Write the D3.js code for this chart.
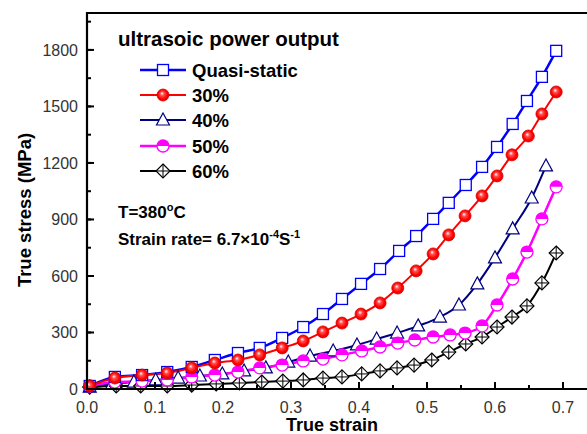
<!DOCTYPE html>
<html><head><meta charset="utf-8">
<script src="https://cdn.jsdelivr.net/npm/d3@7/dist/d3.min.js"></script>
<style>body{margin:0;background:#fff}svg{display:block}text{font-family:Arial,"Liberation Sans",sans-serif}</style>
</head><body><svg id="c" width="587" height="434"></svg>
<script>
const seriesNames = ["Quasi-static","30%","40%","50%","60%"];
const quasiStrain = [0.004,0.041,0.081,0.118,0.154,0.188,0.222,0.254,0.287,0.318,0.347,0.375,0.403,0.431,0.459,0.484,0.509,0.532,0.557,0.581,0.603,0.626,0.647,0.669,0.690];
const quasiStress = [16,64,74,90,117,154,191,218,271,329,398,478,558,637,733,812,903,988,1083,1179,1285,1407,1529,1657,1795];
const p30Strain = [0.004,0.041,0.081,0.118,0.154,0.188,0.222,0.254,0.287,0.318,0.347,0.375,0.403,0.431,0.457,0.484,0.509,0.532,0.556,0.581,0.603,0.625,0.649,0.669,0.690];
const p30Stress = [16,58,74,85,112,138,154,181,218,255,303,350,398,457,536,627,717,818,919,1025,1131,1243,1343,1460,1577];
const p40Strain = [0.004,0.037,0.069,0.101,0.134,0.166,0.199,0.231,0.263,0.296,0.328,0.362,0.397,0.426,0.456,0.487,0.519,0.547,0.574,0.600,0.626,0.654,0.675];
const p40Stress = [10,27,37,48,58,69,80,96,112,143,175,202,234,265,297,335,382,446,558,696,850,1014,1184];
const p50Strain = [0.004,0.041,0.081,0.118,0.154,0.188,0.222,0.254,0.287,0.318,0.347,0.375,0.404,0.431,0.457,0.482,0.509,0.534,0.556,0.581,0.603,0.626,0.647,0.669,0.690];
const p50Stress = [16,37,42,48,64,74,90,112,127,149,159,181,202,223,244,260,276,287,297,335,446,584,727,903,1073];
const p60Strain = [0.004,0.043,0.079,0.118,0.154,0.190,0.224,0.257,0.288,0.318,0.347,0.375,0.404,0.431,0.456,0.481,0.507,0.532,0.557,0.581,0.603,0.625,0.647,0.669,0.690];
const p60Stress = [10,16,16,16,21,27,32,37,42,48,58,64,80,96,112,127,154,196,239,276,329,382,441,563,722];
const xTicks = [0,0.1,0.2,0.3,0.4,0.5,0.6,0.7];
const yTicks = [0,300,600,900,1200,1500,1800];

const svg = d3.select("#c");
const L=87, R=587, T=13, B=389;
const x = d3.scaleLinear().domain([0,0.7353]).range([L,R]);
const y = d3.scaleLinear().domain([0,1996]).range([B,T]);

const defs = svg.append("defs");
const g1 = defs.append("radialGradient").attr("id","sph").attr("cx","0.5").attr("cy","0.5").attr("r","0.55").attr("fx","0.4").attr("fy","0.35");
g1.append("stop").attr("offset","0").attr("stop-color","#ffffff");
g1.append("stop").attr("offset","0.3").attr("stop-color","#ff5050");
g1.append("stop").attr("offset","0.7").attr("stop-color","#ff0000");
g1.append("stop").attr("offset","1").attr("stop-color","#d00000");

const series = [
 {name:seriesNames[2], xs:p40Strain, ys:p40Stress, color:"#000080", w:2, m:"tri"},
 {name:seriesNames[4], xs:p60Strain, ys:p60Stress, color:"#000000", w:2, m:"dia"},
 {name:seriesNames[3], xs:p50Strain, ys:p50Stress, color:"#ff00ff", w:2.5, m:"half"},
 {name:seriesNames[0], xs:quasiStrain, ys:quasiStress, color:"#0000ff", w:2.5, m:"sq"},
 {name:seriesNames[1], xs:p30Strain, ys:p30Stress, color:"#ff0000", w:2, m:"ball"}
];

function marker(sel, type, color, cx, cy){
  const g = sel.append("g").attr("transform",`translate(${cx},${cy})`);
  if(type==="sq"){
    g.append("rect").attr("x",-5.5).attr("y",-5.5).attr("width",11).attr("height",11).attr("fill","#fff").attr("stroke",color).attr("stroke-width",1.3);
  } else if(type==="ball"){
    g.append("circle").attr("r",6).attr("fill","url(#sph)").attr("stroke","#e00000").attr("stroke-width",0.8);
  } else if(type==="tri"){
    g.append("path").attr("d","M0,-7L6.5,5L-6.5,5Z").attr("fill","#fff").attr("stroke",color).attr("stroke-width",1.2);
  } else if(type==="half"){
    g.append("circle").attr("r",6).attr("fill","#fff").attr("stroke",color).attr("stroke-width",1.3);
    g.append("path").attr("d","M-6,0A6,6 0 0 1 6,0Z").attr("fill",color);
  } else if(type==="dia"){
    g.append("path").attr("d","M0,-7L7,0L0,7L-7,0Z").attr("fill","#fff").attr("stroke",color).attr("stroke-width",1.2);
    g.append("path").attr("d","M0,-7V7M-7,0H7").attr("stroke",color).attr("stroke-width",1);
  }
}

const axG = svg.append("g");
axG.append("line").attr("x1",L).attr("x2",R).attr("y1",T).attr("y2",T).attr("stroke","#000").attr("stroke-width",2);

const line = d3.line().x(d=>x(d[0])).y(d=>y(d[1])).curve(d3.curveMonotoneX);
series.forEach(s=>{
  const pts = s.xs.map((v,i)=>[v,s.ys[i]]);
  svg.append("path").attr("d",line(pts)).attr("fill","none").attr("stroke",s.color).attr("stroke-width",s.w);
});
series.forEach(s=>{
  const mg = svg.append("g");
  s.xs.forEach((v,i)=>marker(mg,s.m,s.color,x(v),y(s.ys[i])));
});

const xMinor = d3.range(0,0.74,0.05);
const xa = svg.append("g").attr("transform",`translate(0,${B})`);
xa.selectAll("line.mi").data(xMinor).join("line").attr("x1",d=>x(d)).attr("x2",d=>x(d)).attr("y1",0).attr("y2",-4).attr("stroke","#000").attr("stroke-width",2);
xa.selectAll("line.ma").data(xTicks).join("line").attr("x1",d=>x(d)).attr("x2",d=>x(d)).attr("y1",0).attr("y2",-7).attr("stroke","#000").attr("stroke-width",2);
xa.selectAll("text").data(xTicks).join("text").attr("x",d=>x(d)).attr("y",24).attr("text-anchor","middle").attr("font-size",16).attr("fill","#333").text(d=>d.toFixed(1));
xa.append("line").attr("x1",L-1).attr("x2",R).attr("stroke","#000").attr("stroke-width",2.2);

const yMinor = d3.range(0,1997,150);
const ya = svg.append("g").attr("transform",`translate(${L},0)`);
ya.selectAll("line.mi").data(yMinor).join("line").attr("y1",d=>y(d)).attr("y2",d=>y(d)).attr("x1",0).attr("x2",4).attr("stroke","#000").attr("stroke-width",2);
ya.selectAll("line.ma").data(yTicks).join("line").attr("y1",d=>y(d)).attr("y2",d=>y(d)).attr("x1",0).attr("x2",7).attr("stroke","#000").attr("stroke-width",2);
ya.selectAll("text").data(yTicks).join("text").attr("x",-9).attr("y",d=>y(d)+6).attr("text-anchor","end").attr("font-size",16).attr("fill","#333").text(d=>d);
ya.append("line").attr("y1",T-1).attr("y2",B+1).attr("stroke","#000").attr("stroke-width",2.2);

svg.append("text").attr("x",332).attr("y",431).attr("text-anchor","middle").attr("font-size",18).attr("font-weight","bold").text("True strain");
svg.append("text").attr("transform","translate(31,210) rotate(-90)").attr("text-anchor","middle").attr("font-size",18.5).attr("font-weight","bold").text("True stress (MPa)");

svg.append("text").attr("x",118).attr("y",46).attr("font-size",20.5).attr("font-weight","bold").text("ultrasoic power output");
const legOrder = [3,4,0,2,1];
const legY = [70,95,120,146,171];
legOrder.forEach((si,k)=>{
  const s = series[si];
  svg.append("line").attr("x1",140).attr("x2",186).attr("y1",legY[k]).attr("y2",legY[k]).attr("stroke",s.color).attr("stroke-width",s.w);
  marker(svg,s.m,s.color,163,legY[k]);
  svg.append("text").attr("x",192).attr("y",legY[k]+6.5).attr("font-size",18.5).attr("font-weight","bold").text(s.name);
});

const t1 = svg.append("text").attr("x",118).attr("y",218).attr("font-size",17).attr("font-weight","bold");
t1.append("tspan").text("T=380");
t1.append("tspan").attr("dy",-7).attr("font-size",11).text("o");
t1.append("tspan").attr("dy",7).text("C");
const t2 = svg.append("text").attr("x",118).attr("y",245).attr("font-size",17).attr("font-weight","bold");
t2.append("tspan").text("Strain rate= 6.7×10");
t2.append("tspan").attr("dy",-7).attr("font-size",11).text("-4");
t2.append("tspan").attr("dy",7).text("S");
t2.append("tspan").attr("dy",-7).attr("font-size",11).text("-1");
</script></body></html>
